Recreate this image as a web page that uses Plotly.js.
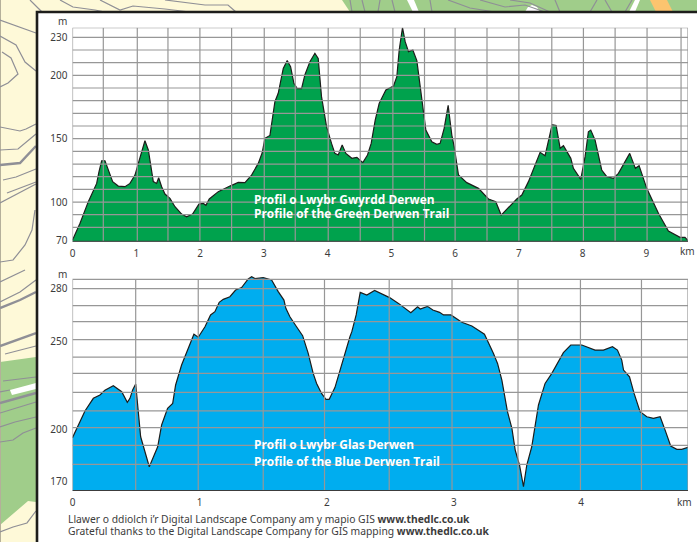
<!DOCTYPE html>
<html><head><meta charset="utf-8">
<script src="https://cdn.plot.ly/plotly-3.0.1.min.js"></script>
<style>html,body{margin:0;padding:0;background:#fff}#c{width:697px;height:542px}</style></head>
<body><div id="c"></div>
<script>
const greenKm=[0,.118,.248,.379,.415,.457,.509,.562,.63,.718,.823,.901,.98,1.032,1.084,1.136,1.189,1.225,1.267,1.319,1.351,1.398,1.45,1.528,1.607,1.711,1.789,1.883,1.983,2.051,2.092,2.145,2.286,2.469,2.599,2.704,2.808,2.913,2.975,3.017,3.096,3.174,3.226,3.305,3.367,3.42,3.472,3.524,3.592,3.644,3.723,3.801,3.853,3.905,3.984,4.062,4.114,4.167,4.229,4.287,4.381,4.459,4.553,4.626,4.684,4.747,4.809,4.914,5.034,5.086,5.123,5.175,5.217,5.269,5.337,5.4,5.462,5.541,5.635,5.713,5.765,5.828,5.891,5.948,5.985,6.053,6.183,6.366,6.523,6.638,6.722,6.967,7.046,7.15,7.333,7.411,7.521,7.584,7.647,7.699,7.814,7.855,7.97,8.038,8.09,8.127,8.195,8.299,8.378,8.482,8.561,8.738,8.827,8.885,9.005,9.188,9.345,9.527,9.605,9.652];
const greenM=[70,83.2,100.3,114.7,123.9,132.6,132.6,125.3,116.1,112.6,112.1,114.7,121.3,130.5,139.7,148.4,141.1,127.9,116.1,114.7,119.2,112.1,106.3,102.9,96.3,90.5,88.4,90.5,98.4,98.9,97.4,102.4,108.2,112.6,115.5,115.3,121.3,130.5,138.9,150.3,152.6,179.2,185.8,205.5,211.6,206.8,193.7,189.5,189.5,200.3,210.8,217.4,213.4,183.2,159.5,146.3,138.4,137.1,145,138.4,134.5,135.3,131.1,137.1,146.3,164.7,177.9,188.4,191.6,198.9,220,237.6,226.6,218.7,220,211.6,185.8,156.8,147.6,145.5,146.3,158.2,176.3,152.9,143.7,121.3,115.3,110.8,102.4,100.3,89.7,102.4,105.5,116.1,139.2,136.6,161.1,160.5,142.4,144.5,134.5,126.6,117.9,135.8,155.5,156.8,148.9,125.3,120,118.7,122.6,138.4,126.6,128.7,110.8,91.1,77.1,72.1,72.1,69.5];
const blueKm=[0,.046,.098,.164,.216,.255,.321,.387,.431,.452,.473,.497,.512,.536,.604,.67,.701,.748,.788,.811,.858,.911,.955,.989,1.042,1.086,1.12,1.154,1.186,1.238,1.283,1.33,1.382,1.409,1.435,1.5,1.566,1.618,1.663,1.678,1.71,1.762,1.81,1.854,1.893,1.92,1.959,1.993,2.019,2.064,2.103,2.142,2.182,2.197,2.231,2.263,2.315,2.376,2.433,2.494,2.564,2.617,2.661,2.714,2.735,2.792,2.834,2.887,2.918,2.976,3.062,3.141,3.24,3.311,3.343,3.377,3.421,3.456,3.482,3.516,3.547,3.573,3.612,3.665,3.717,3.77,3.822,3.861,3.919,4.006,4.11,4.176,4.247,4.286,4.32,4.334,4.381,4.417,4.464,4.517,4.569,4.622,4.661,4.705,4.753,4.792,4.841];
const blueM=[195.1,202.3,210.3,217.5,219.4,222.1,224.7,221.3,215.2,217.5,222.2,225.7,213.7,195.6,178.5,189.9,202.3,211.8,214.6,225.1,236.5,246,254,252.3,258.3,265,266.9,272.2,273.9,275.4,279.2,280.6,285.5,286.8,285.7,286.3,284.9,278.3,273.5,268.8,264,258.3,253.2,243.1,231.7,226,220.3,216.9,216.9,223.6,233.6,243.1,252.6,255.5,265,277.9,276.4,279,277,274.9,271.6,268.8,266.3,269.7,268.4,269.9,267.8,266.5,265,265,260.8,258.7,254,243.1,237.4,227.9,209.9,200.4,188,179.5,167.2,179.5,189.9,213.7,226,231.7,238.4,243.5,247.9,247.9,245,245,246.9,245,239.3,233.6,229.8,220.3,209.9,207,206.1,207,199.4,190.3,188.4,188.4,189.6];

const greenGridKm=[.483,1.016,1.497,1.998,2.495,3.007,3.493,4.01,4.512,5.024,5.52,6,6.5,7,7.516,8.012,8.509,9.01,9.543];
const greenGridM=[80,90,100,110,120,130,140,150,160,170,180,190,200,210,220,230];
const blueGridKm=[.497,.989,1.5,1.982,2.491,2.985,3.504,3.995,4.475];
const blueGridM=[179.9,190.7,200.8,210.3,220.9,231.7,241,250.9,261.2,270.3,280];
const greenTicksKm=[0,1,2,3,4,5,6,7,8,9];
const greenTicksM=[70,100,150,200,230];
const blueTicksKm=[0,1,2,3,4];
const blueTicksM=[170,200,250,280];
const greenTitle=['Profil o Lwybr Gwyrdd Derwen','Profile of the Green Derwen Trail'];
const blueTitle=['Profil o Lwybr Glas Derwen','Profile of the Blue Derwen Trail'];
const thanks=['Llawer o ddiolch i’r Digital Landscape Company am y mapio GIS <b>www.thedlc.co.uk</b>','Grateful thanks to the Digital Landscape Company for GIS mapping <b>www.thedlc.co.uk</b>'];

const W=697,H=542,FONT='"Noto Sans", sans-serif';
const px=x=>x/W, py=y=>1-y/H;
const poly=(pts,close)=>pts.map((p,i)=>(i?'L':'M')+px(p[0]).toFixed(4)+' '+py(p[1]).toFixed(4)).join(' ')+(close?' Z':'');
const deco=(pts,o)=>Object.assign({type:'path',xref:'paper',yref:'paper',layer:'below',path:poly(pts,!!o.fillcolor),line:{width:o.w===undefined?1.2:o.w,color:o.c||'#8f8f96'}},o.fillcolor?{fillcolor:o.fillcolor}:{});
const contours=[
 [[0,20],[36,33]],[[0,36],[16,45],[25,62],[36,71]],[[2,52],[11,58],[18,74],[8,83],[0,87]],
 [[0,127],[20,131],[26,129],[36,124]],[[0,150],[18,149],[36,134]],[[3,180],[16,177],[36,169]],[[7,193],[36,182]],
 [[0,203],[36,184]],[[0,262],[13,260],[25,245],[32,230],[35,210]],[[0,282],[25,270]],[[0,302],[20,292],[36,280]],
 [[5,354],[36,346]],[[3,381],[36,377]],[[0,392],[10,390]],[[0,413],[36,402]],[[0,427],[15,422],[36,417]],
 [[0,442],[13,440],[23,433],[36,428]],[[0,532],[13,527],[27,523],[36,511]],
 [[30,0],[42,12]],[[60,0],[73,7],[95,10],[105,12]],[[100,0],[120,10],[133,6],[165,9],[190,12]],[[165,0],[205,5],[228,5],[236,12]],
 [[352,12],[350,0]],[[365,12],[362,0]],[[378,12],[380,0]],[[395,12],[392,0]],[[432,12],[430,0]],[[448,0],[470,8],[495,12]],
 [[480,0],[505,7],[525,5],[545,12]],[[510,0],[530,3],[550,12]],[[560,12],[555,0]],[[590,12],[597,0]],[[612,12],[605,0]],[[625,12],[632,0]]
];
const thick=[[[0,165],[20,163],[36,146]],[[0,308],[20,300],[36,292]],[[0,346],[36,333]],[[0,403],[36,393]]];
const shapes=[
 deco([[0,362],[36,357],[36,502],[28,501],[0,525]],{fillcolor:'#a0cd8a',w:0}),
 deco([[342,0],[697,0],[697,12],[350,12]],{fillcolor:'#a0cd8a',w:0}),
 deco([[650,0],[667,0],[673,12],[656,12]],{fillcolor:'#fcc46f',w:0}),
 deco([[10,390],[36,383],[36,389],[12,395]],{fillcolor:'#ffffff',w:0}),
 deco([[407,0],[414,0],[419,12],[413,12]],{fillcolor:'#ffffff',w:0}),
 deco([[629,12],[635,12],[640,0],[635,0]],{fillcolor:'#ffffff',w:0}),
 deco([[525,12],[528,7],[532,5],[537,7],[540,12]],{fillcolor:'#ffffff',w:0}),
 deco([[0.5,0],[0.5,542]],{c:'#b5b09a',w:1})
];
contours.forEach(p=>shapes.push(deco(p,{})));
thick.forEach(p=>shapes.push(deco(p,{w:2.4})));
shapes.push({type:'rect',xref:'paper',yref:'paper',layer:'below',x0:px(37),x1:px(705),y0:py(552),y1:py(12),fillcolor:'#fff',line:{color:'#1d1d1b',width:2.6}});

const grey='#979797';
function grid(xr,yr,kms,ms,x1,yLo,yHi,stub){
 kms.forEach(k=>shapes.push({type:'line',layer:'above',xref:xr,yref:yr,x0:k,x1:k,y0:yLo-stub,y1:yHi,line:{color:grey,width:1.2}}));
 ms.forEach(m=>shapes.push({type:'line',layer:'above',xref:xr,yref:yr,x0:0,x1:x1,y0:m,y1:m,line:{color:grey,width:1.2}}));
 shapes.push({type:'rect',layer:'above',xref:xr,yref:yr,x0:0,x1:x1,y0:yLo,y1:yHi,line:{color:grey,width:1.2}});
 shapes.push({type:'line',layer:'above',xref:xr,yref:yr,x0:0,x1:x1,y0:yLo,y1:yLo,line:{color:'#3c3c3c',width:1.8}});
}
const gMax=9.652,bMax=4.841;
grid('x','y',greenGridKm,greenGridM,gMax,68.7,237.6,0);
grid('x2','y2',blueGridKm,blueGridM,bMax,164.7,285.3,1.4);

const traces=[
 {x:greenKm,y:greenM,xaxis:'x',yaxis:'y',type:'scatter',mode:'lines',fill:'tozeroy',fillcolor:'#00a24d',line:{color:'#1d1d1b',width:1.2},hoverinfo:'skip'},
 {x:blueKm,y:blueM,xaxis:'x2',yaxis:'y2',type:'scatter',mode:'lines',fill:'tozeroy',fillcolor:'#00adef',line:{color:'#1d1d1b',width:1.2},hoverinfo:'skip'}
];
const tf={family:FONT,size:10,color:'#3c3c3c'};
const xa=(vals,max,anchor)=>({range:[0,max],domain:[px(72.5),px(688)],anchor,tickmode:'array',tickvals:vals,ticktext:vals.map(String),showgrid:false,zeroline:false,showline:false,ticks:'outside',ticklen:2,tickcolor:'rgba(0,0,0,0)',tickfont:tf,fixedrange:true});
const ya=(vals,range,top,bottom,anchor)=>({range,domain:[py(bottom),py(top)],anchor,tickmode:'array',tickvals:vals,ticktext:vals.map(String),showgrid:false,zeroline:false,showline:false,ticks:'outside',ticklen:2,tickcolor:'rgba(0,0,0,0)',tickfont:tf,fixedrange:true});
const note=(text,x,y,o)=>Object.assign({text,xref:'paper',yref:'paper',x:px(x),y:py(y),xanchor:'left',yanchor:'middle',align:'left',showarrow:false,borderpad:0,borderwidth:0,font:{family:FONT,size:10,color:'#3c3c3c'}},o||{});
const white={family:'"Open Sans", sans-serif',size:11.9,color:'#fff'};
const small={family:FONT,size:10.33,color:'#3c3c3c'};
Plotly.newPlot('c',traces,{
 width:W,height:H,margin:{l:0,r:0,t:0,b:0},autosize:false,showlegend:false,
 paper_bgcolor:'#fef9d8',plot_bgcolor:'rgba(0,0,0,0)',
 xaxis:xa(greenTicksKm,gMax,'y'),yaxis:ya(greenTicksM,[68.7,237.6],27.7,241.7,'x'),
 xaxis2:xa(blueTicksKm,bMax,'y2'),yaxis2:ya(blueTicksM,[164.7,287.2],276,491,'x2'),
 shapes,
 annotations:[
  note('m',58,21.5),note('km',680,250.5),note('m',58,274),note('km',677,502),
  note('<b>'+greenTitle[0]+'</b>',254,199,{font:white}),
  note('<b>'+greenTitle[1]+'</b>',254,213,{font:white}),
  note('<b>'+blueTitle[0]+'</b>',254,444,{font:white}),
  note('<b>'+blueTitle[1]+'</b>',254,461,{font:white}),
  note(thanks[0],67.5,519,{font:small}),
  note(thanks[1],67.5,531,{font:small})
 ]
},{staticPlot:true,displayModeBar:false});
</script></body></html>
